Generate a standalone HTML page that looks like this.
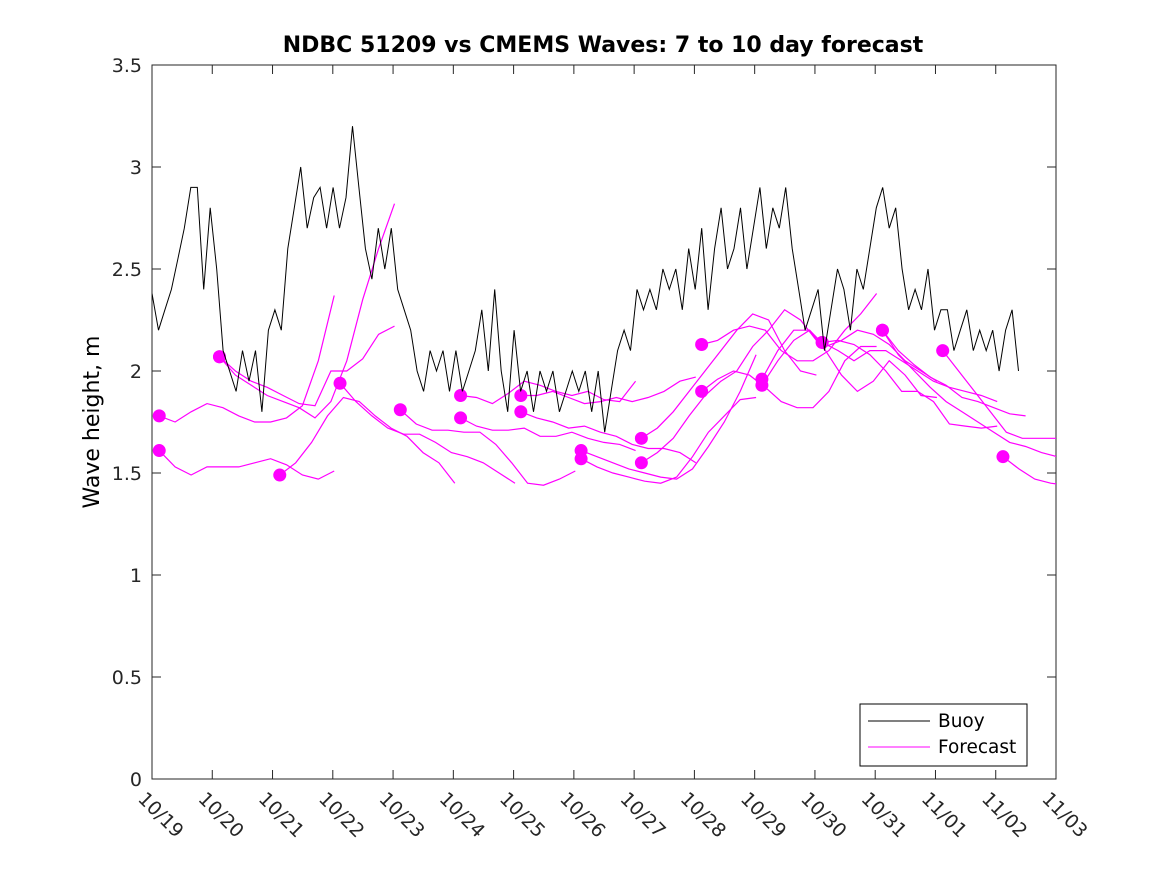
<!DOCTYPE html>
<html><head><meta charset="utf-8"><style>
body{margin:0;background:#fff;}
svg{display:block;font-family:"DejaVu Sans","Liberation Sans",sans-serif;}
</style></head><body>
<svg id="chart" width="1167" height="875">
<rect width="1167" height="875" fill="#fff"/>
<text x="603" y="52" text-anchor="middle" font-size="22" font-weight="bold">NDBC 51209 vs CMEMS Waves: 7 to 10 day forecast</text>
<text transform="translate(99,422) rotate(-90)" text-anchor="middle" font-size="22">Wave height, m</text>
<g id="axes"></g>
<g id="plot"></g>
<g>
<rect x="860" y="704" width="167" height="62" fill="#fff" stroke="#000" stroke-width="1"/>
<line x1="868" y1="721" x2="930" y2="721" stroke="#000"/>
<text x="938" y="727" font-size="18.5">Buoy</text>
<line x1="868" y1="747" x2="930" y2="747" stroke="#f0f"/>
<text x="938" y="753" font-size="18.5">Forecast</text>
</g>
</svg>
<script>
const xTickLabels=["10/19","10/20","10/21","10/22","10/23","10/24","10/25","10/26","10/27","10/28","10/29","10/30","10/31","11/01","11/02","11/03"];
const yTickValues=[0,0.5,1,1.5,2,2.5,3,3.5];
const buoyStepDays=0.1073;
const buoyValues=[2.38,2.2,2.3,2.4,2.55,2.7,2.9,2.9,2.4,2.8,
2.5,2.1,2.0,1.9,2.1,1.95,2.1,1.8,2.2,2.3,
2.2,2.6,2.8,3.0,2.7,2.85,2.9,2.7,2.9,2.7,
2.85,3.2,2.9,2.6,2.45,2.7,2.5,2.7,2.4,2.3,
2.2,2.0,1.9,2.1,2.0,2.1,1.9,2.1,1.9,2.0,
2.1,2.3,2.0,2.4,2.0,1.8,2.2,1.9,2.0,1.8,
2.0,1.9,2.0,1.8,1.9,2.0,1.9,2.0,1.8,2.0,
1.7,1.9,2.1,2.2,2.1,2.4,2.3,2.4,2.3,2.5,
2.4,2.5,2.3,2.6,2.4,2.7,2.3,2.6,2.8,2.5,
2.6,2.8,2.5,2.7,2.9,2.6,2.8,2.7,2.9,2.6,
2.4,2.2,2.3,2.4,2.1,2.3,2.5,2.4,2.2,2.5,
2.4,2.6,2.8,2.9,2.7,2.8,2.5,2.3,2.4,2.3,
2.5,2.2,2.3,2.3,2.1,2.2,2.3,2.1,2.2,2.1,
2.2,2.0,2.2,2.3,2.0];
const forecastStepDays=0.264;
const forecastStarts=[0.12,0.12,1.12,1.12,2.12,3.12,4.12,5.12,5.12,6.12,6.12,7.12,7.12,8.12,8.12,9.12,9.12,10.12,10.12,11.12,11.12,12.12,12.12,13.12,14.12];
const forecastValues=[
[1.78,1.75,1.8,1.84,1.82,1.78,1.75,1.75,1.77,1.83,2.05,2.37],
[1.61,1.53,1.49,1.53,1.53,1.53,1.55,1.57,1.54,1.49,1.47,1.51],
[2.07,2.0,1.95,1.92,1.88,1.84,1.83,2.0,2.0,2.06,2.18,2.22],
[2.07,1.98,1.93,1.88,1.85,1.82,1.77,1.85,2.05,2.35,2.6,2.82],
[1.49,1.55,1.65,1.78,1.87,1.85,1.78,1.72,1.68,1.6,1.55,1.45],
[1.94,1.85,1.78,1.72,1.69,1.69,1.65,1.6,1.58,1.55,1.5,1.45],
[1.81,1.74,1.71,1.71,1.7,1.7,1.64,1.55,1.45,1.44,1.47,1.51],
[1.88,1.87,1.84,1.89,1.95,1.93,1.9,1.88,1.9,1.86,1.85,1.95],
[1.77,1.73,1.71,1.71,1.72,1.68,1.68,1.7,1.67,1.65,1.64,1.61],
[1.88,1.88,1.9,1.87,1.84,1.85,1.87,1.85,1.87,1.9,1.95,1.97],
[1.8,1.77,1.75,1.72,1.73,1.7,1.68,1.64,1.62,1.62,1.6,1.55],
[1.61,1.58,1.55,1.52,1.5,1.48,1.47,1.52,1.63,1.75,1.9,2.08],
[1.57,1.53,1.5,1.48,1.46,1.45,1.48,1.58,1.7,1.78,1.86,1.87],
[1.67,1.72,1.8,1.9,2.0,2.1,2.2,2.28,2.25,2.1,2.0,1.98],
[1.55,1.6,1.67,1.78,1.88,1.95,2.0,2.12,2.2,2.3,2.25,2.15],
[2.13,2.15,2.2,2.22,2.2,2.1,2.05,2.05,2.1,2.2,2.28,2.38],
[1.9,1.96,2.0,1.98,1.92,1.85,1.82,1.82,1.9,2.05,2.12,2.12],
[1.96,2.1,2.2,2.2,2.12,2.15,2.2,2.18,2.13,2.05,2.0,1.95],
[1.93,2.05,2.15,2.2,2.1,1.98,1.9,1.95,2.05,1.98,1.88,1.87],
[2.14,2.15,2.13,2.08,2.0,1.9,1.9,1.85,1.74,1.73,1.72,1.73],
[2.14,2.1,2.05,2.1,2.1,2.05,2.0,1.95,1.92,1.9,1.88,1.85],
[2.2,2.1,2.03,1.97,1.93,1.87,1.85,1.82,1.79,1.78],
[2.2,2.08,2.0,1.92,1.85,1.8,1.75,1.7,1.65,1.63,1.6,1.58],
[2.1,2.0,1.9,1.8,1.7,1.67,1.67,1.67,1.67,1.66,1.62],
[1.58,1.52,1.47,1.45,1.44,1.42]];

const X0=152,X1=1056,Y0=779,Y1=65;
const NS="http://www.w3.org/2000/svg";
function xs(d){return X0+(X1-X0)*d/(xTickLabels.length-1);}
function ys(v){return Y0-(Y0-Y1)*v/3.5;}
function mk(tag,attrs,parent){const e=document.createElementNS(NS,tag);for(const k in attrs)e.setAttribute(k,attrs[k]);parent.appendChild(e);return e;}
const axes=document.getElementById('axes'),plot=document.getElementById('plot');
const frame=mk('rect',{x:X0,y:Y1,width:X1-X0,height:Y0-Y1,fill:'none',stroke:'#262626','stroke-width':1},axes);


yTickValues.forEach(v=>{
  const y=ys(v);
  mk('line',{x1:X0,y1:y,x2:X0+9,y2:y,stroke:'#262626'},axes);
  mk('line',{x1:X1,y1:y,x2:X1-9,y2:y,stroke:'#262626'},axes);
  const t=mk('text',{x:X0-10,y:y+7,'text-anchor':'end','font-size':19,fill:'#262626'},axes);
  t.textContent=String(v);
  
  
});
xTickLabels.forEach((lab,i)=>{
  const x=xs(i);
  mk('line',{x1:x,y1:Y0,x2:x,y2:Y0-9,stroke:'#262626'},axes);
  mk('line',{x1:x,y1:Y1,x2:x,y2:Y1+9,stroke:'#262626'},axes);
  const t=mk('text',{x:x-15,y:Y0+21,'font-size':19,fill:'#262626',transform:`rotate(45 ${x-15} ${Y0+21})`},axes);
  t.textContent=lab;
  
  
});
const clip=mk('clipPath',{id:'pc'},plot);
mk('rect',{x:X0,y:Y1,width:X1-X0,height:Y0-Y1},clip);
const g=mk('g',{'clip-path':'url(#pc)'},plot);
forecastValues.forEach((vals,k)=>{
  const s=forecastStarts[k];
  const pts=vals.map((v,i)=>xs(s+i*forecastStepDays).toFixed(1)+','+ys(v).toFixed(1)).join(' ');
  const pl=mk('polyline',{points:pts,fill:'none',stroke:'#f0f','stroke-width':1.2},g);
  
  
});
forecastValues.forEach((vals,k)=>{
  const c=mk('circle',{cx:xs(forecastStarts[k]),cy:ys(vals[0]),r:6.5,fill:'#f0f'},g);
  
  
});
const bp=buoyValues.map((v,i)=>xs(i*buoyStepDays).toFixed(1)+','+ys(v).toFixed(1)).join(' ');
const bl=mk('polyline',{points:bp,fill:'none',stroke:'#000','stroke-width':1},g);


</script>
</body></html>
